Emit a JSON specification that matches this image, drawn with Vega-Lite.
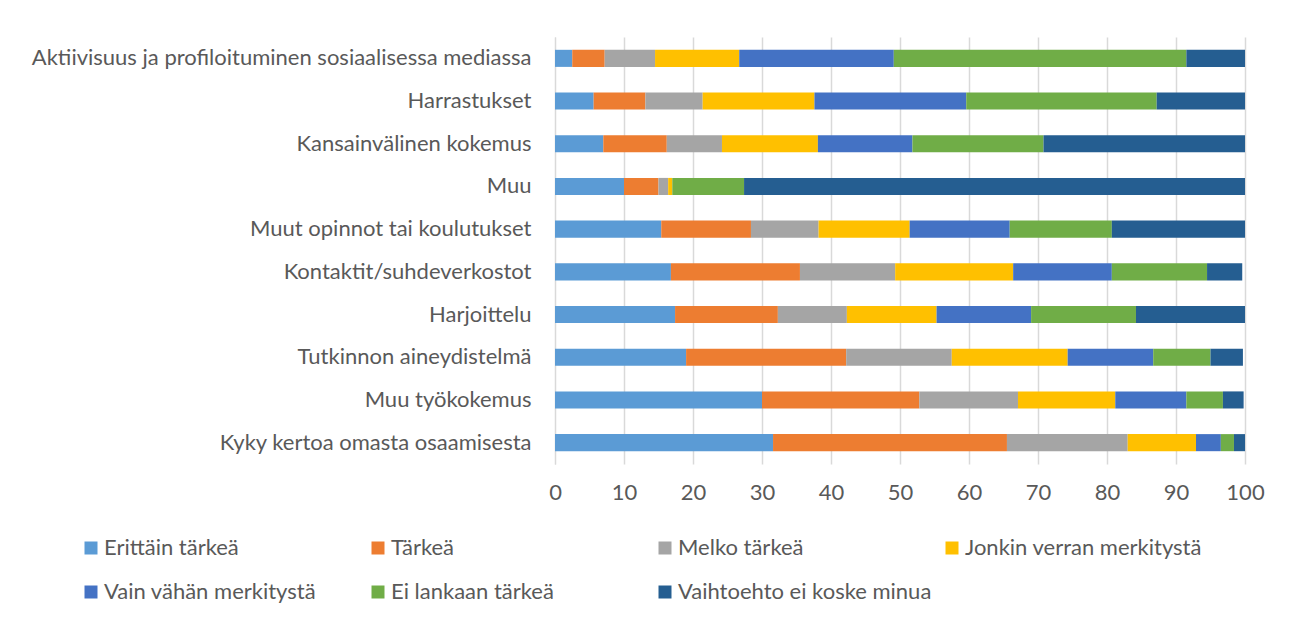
{
  "$schema": "https://vega.github.io/schema/vega-lite/v6.json",
  "width": 690,
  "height": 427,
  "autosize": {"type": "none"},
  "padding": {"left": 555, "top": 37, "right": 47, "bottom": 159},
  "background": "white",
  "config": {
    "font": "Lato",
    "view": {"stroke": null},
    "axis": {"labelColor": "#595959", "labelFontSize": 22, "labelFont": "Lato"},
    "legend": {"labelColor": "#595959", "labelFontSize": 22, "labelFont": "Lato"}
  },
  "data": {
    "values": [
      {"cat": "Aktiivisuus ja profiloituminen sosiaalisessa mediassa", "s": "Erittäin tärkeä", "i": 1, "v": 2.5},
      {"cat": "Aktiivisuus ja profiloituminen sosiaalisessa mediassa", "s": "Tärkeä", "i": 2, "v": 4.7},
      {"cat": "Aktiivisuus ja profiloituminen sosiaalisessa mediassa", "s": "Melko tärkeä", "i": 3, "v": 7.3},
      {"cat": "Aktiivisuus ja profiloituminen sosiaalisessa mediassa", "s": "Jonkin verran merkitystä", "i": 4, "v": 12.2},
      {"cat": "Aktiivisuus ja profiloituminen sosiaalisessa mediassa", "s": "Vain vähän merkitystä", "i": 5, "v": 22.4},
      {"cat": "Aktiivisuus ja profiloituminen sosiaalisessa mediassa", "s": "Ei lankaan tärkeä", "i": 6, "v": 42.4},
      {"cat": "Aktiivisuus ja profiloituminen sosiaalisessa mediassa", "s": "Vaihtoehto ei koske minua", "i": 7, "v": 8.5},
      {"cat": "Harrastukset", "s": "Erittäin tärkeä", "i": 1, "v": 5.6},
      {"cat": "Harrastukset", "s": "Tärkeä", "i": 2, "v": 7.5},
      {"cat": "Harrastukset", "s": "Melko tärkeä", "i": 3, "v": 8.3},
      {"cat": "Harrastukset", "s": "Jonkin verran merkitystä", "i": 4, "v": 16.2},
      {"cat": "Harrastukset", "s": "Vain vähän merkitystä", "i": 5, "v": 22.0},
      {"cat": "Harrastukset", "s": "Ei lankaan tärkeä", "i": 6, "v": 27.6},
      {"cat": "Harrastukset", "s": "Vaihtoehto ei koske minua", "i": 7, "v": 12.8},
      {"cat": "Kansainvälinen kokemus", "s": "Erittäin tärkeä", "i": 1, "v": 7.0},
      {"cat": "Kansainvälinen kokemus", "s": "Tärkeä", "i": 2, "v": 9.2},
      {"cat": "Kansainvälinen kokemus", "s": "Melko tärkeä", "i": 3, "v": 8.0},
      {"cat": "Kansainvälinen kokemus", "s": "Jonkin verran merkitystä", "i": 4, "v": 13.9},
      {"cat": "Kansainvälinen kokemus", "s": "Vain vähän merkitystä", "i": 5, "v": 13.7},
      {"cat": "Kansainvälinen kokemus", "s": "Ei lankaan tärkeä", "i": 6, "v": 19.0},
      {"cat": "Kansainvälinen kokemus", "s": "Vaihtoehto ei koske minua", "i": 7, "v": 29.2},
      {"cat": "Muu", "s": "Erittäin tärkeä", "i": 1, "v": 10.0},
      {"cat": "Muu", "s": "Tärkeä", "i": 2, "v": 5.0},
      {"cat": "Muu", "s": "Melko tärkeä", "i": 3, "v": 1.4},
      {"cat": "Muu", "s": "Jonkin verran merkitystä", "i": 4, "v": 0.6},
      {"cat": "Muu", "s": "Vain vähän merkitystä", "i": 5, "v": 0},
      {"cat": "Muu", "s": "Ei lankaan tärkeä", "i": 6, "v": 10.4},
      {"cat": "Muu", "s": "Vaihtoehto ei koske minua", "i": 7, "v": 72.6},
      {"cat": "Muut opinnot tai koulutukset", "s": "Erittäin tärkeä", "i": 1, "v": 15.4},
      {"cat": "Muut opinnot tai koulutukset", "s": "Tärkeä", "i": 2, "v": 13.0},
      {"cat": "Muut opinnot tai koulutukset", "s": "Melko tärkeä", "i": 3, "v": 9.8},
      {"cat": "Muut opinnot tai koulutukset", "s": "Jonkin verran merkitystä", "i": 4, "v": 13.2},
      {"cat": "Muut opinnot tai koulutukset", "s": "Vain vähän merkitystä", "i": 5, "v": 14.5},
      {"cat": "Muut opinnot tai koulutukset", "s": "Ei lankaan tärkeä", "i": 6, "v": 14.8},
      {"cat": "Muut opinnot tai koulutukset", "s": "Vaihtoehto ei koske minua", "i": 7, "v": 19.3},
      {"cat": "Kontaktit/suhdeverkostot", "s": "Erittäin tärkeä", "i": 1, "v": 16.8},
      {"cat": "Kontaktit/suhdeverkostot", "s": "Tärkeä", "i": 2, "v": 18.7},
      {"cat": "Kontaktit/suhdeverkostot", "s": "Melko tärkeä", "i": 3, "v": 13.8},
      {"cat": "Kontaktit/suhdeverkostot", "s": "Jonkin verran merkitystä", "i": 4, "v": 17.1},
      {"cat": "Kontaktit/suhdeverkostot", "s": "Vain vähän merkitystä", "i": 5, "v": 14.3},
      {"cat": "Kontaktit/suhdeverkostot", "s": "Ei lankaan tärkeä", "i": 6, "v": 13.8},
      {"cat": "Kontaktit/suhdeverkostot", "s": "Vaihtoehto ei koske minua", "i": 7, "v": 5.1},
      {"cat": "Harjoittelu", "s": "Erittäin tärkeä", "i": 1, "v": 17.4},
      {"cat": "Harjoittelu", "s": "Tärkeä", "i": 2, "v": 14.9},
      {"cat": "Harjoittelu", "s": "Melko tärkeä", "i": 3, "v": 10.0},
      {"cat": "Harjoittelu", "s": "Jonkin verran merkitystä", "i": 4, "v": 13.0},
      {"cat": "Harjoittelu", "s": "Vain vähän merkitystä", "i": 5, "v": 13.7},
      {"cat": "Harjoittelu", "s": "Ei lankaan tärkeä", "i": 6, "v": 15.2},
      {"cat": "Harjoittelu", "s": "Vaihtoehto ei koske minua", "i": 7, "v": 15.8},
      {"cat": "Tutkinnon aineydistelmä", "s": "Erittäin tärkeä", "i": 1, "v": 19.0},
      {"cat": "Tutkinnon aineydistelmä", "s": "Tärkeä", "i": 2, "v": 23.2},
      {"cat": "Tutkinnon aineydistelmä", "s": "Melko tärkeä", "i": 3, "v": 15.3},
      {"cat": "Tutkinnon aineydistelmä", "s": "Jonkin verran merkitystä", "i": 4, "v": 16.8},
      {"cat": "Tutkinnon aineydistelmä", "s": "Vain vähän merkitystä", "i": 5, "v": 12.4},
      {"cat": "Tutkinnon aineydistelmä", "s": "Ei lankaan tärkeä", "i": 6, "v": 8.3},
      {"cat": "Tutkinnon aineydistelmä", "s": "Vaihtoehto ei koske minua", "i": 7, "v": 4.7},
      {"cat": "Muu työkokemus", "s": "Erittäin tärkeä", "i": 1, "v": 30.0},
      {"cat": "Muu työkokemus", "s": "Tärkeä", "i": 2, "v": 22.8},
      {"cat": "Muu työkokemus", "s": "Melko tärkeä", "i": 3, "v": 14.3},
      {"cat": "Muu työkokemus", "s": "Jonkin verran merkitystä", "i": 4, "v": 14.1},
      {"cat": "Muu työkokemus", "s": "Vain vähän merkitystä", "i": 5, "v": 10.3},
      {"cat": "Muu työkokemus", "s": "Ei lankaan tärkeä", "i": 6, "v": 5.3},
      {"cat": "Muu työkokemus", "s": "Vaihtoehto ei koske minua", "i": 7, "v": 3.0},
      {"cat": "Kyky kertoa omasta osaamisesta", "s": "Erittäin tärkeä", "i": 1, "v": 31.6},
      {"cat": "Kyky kertoa omasta osaamisesta", "s": "Tärkeä", "i": 2, "v": 33.9},
      {"cat": "Kyky kertoa omasta osaamisesta", "s": "Melko tärkeä", "i": 3, "v": 17.5},
      {"cat": "Kyky kertoa omasta osaamisesta", "s": "Jonkin verran merkitystä", "i": 4, "v": 9.9},
      {"cat": "Kyky kertoa omasta osaamisesta", "s": "Vain vähän merkitystä", "i": 5, "v": 3.6},
      {"cat": "Kyky kertoa omasta osaamisesta", "s": "Ei lankaan tärkeä", "i": 6, "v": 1.9},
      {"cat": "Kyky kertoa omasta osaamisesta", "s": "Vaihtoehto ei koske minua", "i": 7, "v": 1.6}
    ]
  },
  "mark": {"type": "bar"},
  "encoding": {
    "y": {
      "field": "cat",
      "type": "nominal",
      "sort": null,
      "scale": {"paddingInner": 0.6, "paddingOuter": 0.3},
      "axis": {
        "title": null,
        "ticks": false,
        "domain": true,
        "domainColor": "#D9D9D9",
        "domainWidth": 1,
        "labelPadding": 24,
        "labelLimit": 0,
        "grid": false
      }
    },
    "x": {
      "field": "v",
      "type": "quantitative",
      "stack": "zero",
      "scale": {"domain": [0, 100], "nice": false},
      "axis": {
        "title": null,
        "values": [0, 10, 20, 30, 40, 50, 60, 70, 80, 90, 100],
        "ticks": false,
        "domain": false,
        "grid": true,
        "gridColor": "#D9D9D9",
        "gridWidth": 1.5,
        "labelPadding": 18,
        "labelFlush": false
      }
    },
    "color": {
      "field": "s",
      "type": "nominal",
      "scale": {
        "domain": ["Erittäin tärkeä", "Tärkeä", "Melko tärkeä", "Jonkin verran merkitystä", "Vain vähän merkitystä", "Ei lankaan tärkeä", "Vaihtoehto ei koske minua"],
        "range": ["#5B9BD5", "#ED7D31", "#A5A5A5", "#FFC000", "#4472C4", "#70AD47", "#255E91"]
      },
      "legend": {
        "title": null,
        "orient": "none",
        "legendX": -475,
        "legendY": 500,
        "direction": "horizontal",
        "columns": 4,
        "gridAlign": "all",
        "columnPadding": 9,
        "rowPadding": 22,
        "symbolType": "square",
        "symbolSize": 169,
        "symbolStrokeWidth": 0,
        "labelOffset": 2,
        "labelLimit": 0
      }
    },
    "order": {"field": "i", "type": "quantitative"}
  }
}
